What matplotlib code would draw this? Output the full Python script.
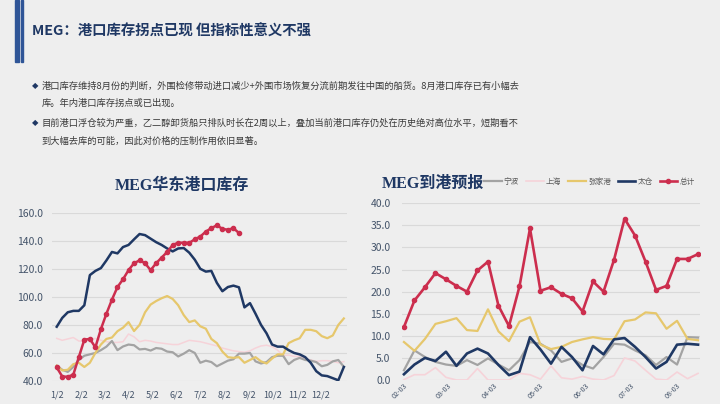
import matplotlib
matplotlib.use('Agg')
import matplotlib.pyplot as plt
import pandas as pd
from matplotlib.patches import Rectangle

plt.rcParams['font.family'] = ['Noto Sans CJK SC', 'DejaVu Sans']

# ---------------- data: left chart (MEG华东港口库存), weekly from Jan 2 ----------------
inv_start = '2020-01-02'
inv_navy = [78.7, 85, 89, 90, 90, 94, 115.5, 118.5, 120.5, 126, 132, 131, 135.5, 137, 141,
            144.8, 144, 141.5, 139, 137, 134.5, 132.4, 134.5, 134.8, 131.5, 126.5, 120, 118,
            118.5, 110, 104, 107, 108, 106.8, 92.5, 95.5, 88, 80, 74, 66, 64.5, 64.5, 62, 60,
            59, 57, 53, 47, 44, 43.5, 42, 40.5, 50]
inv_red = [49.7, 43.2, 43, 44.5, 57, 69.5, 70, 64, 77, 88, 98, 107, 112.5, 119, 124, 126,
           124, 119, 124, 128, 132, 137, 138.6, 138.6, 138.5, 141, 143, 146.5, 149, 151,
           148.5, 147.8, 149, 145.5]
inv_yellow = [50.9, 47.5, 48, 52, 53, 50, 53, 60, 66, 70, 71, 75.5, 78, 82, 75.6, 80, 89,
              94.5, 97, 99, 100.6, 98.5, 94, 87, 82, 83.2, 79, 77.3, 70, 67, 61, 57, 56.5,
              57, 53, 55, 57, 54, 52.5, 56, 59, 59, 67, 69, 70.5, 76.5, 76.5, 75.5, 72, 70.5,
              72.5, 80, 84.6]
inv_gray = [50.9, 48, 46.5, 50, 55, 58, 59, 60, 62, 64.5, 68.5, 62, 64.6, 66, 65.5, 62.5,
            62.9, 61.7, 63.5, 63, 61, 60.5, 57.5, 59.5, 62, 60, 53, 54.5, 53.5, 50.5, 52.5,
            54.5, 55.5, 59.5, 59.5, 60, 54, 52.5, 53.5, 57, 58, 58, 52, 55, 56.5, 55, 54.5,
            53.5, 50.5, 51.5, 54, 55, 50.1]
inv_pink = [70.4, 69, 70, 71, 68.5, 68.5, 69.5, 70.4, 69, 68, 67.5, 67.5, 68, 73.5, 71.5,
            68, 69, 68.5, 67.5, 67, 66.5, 66, 66, 67.5, 69, 68.5, 68, 67, 66, 65, 63.5, 62.5,
            61.5, 61, 60.5, 61.5, 63.5, 65, 65.5, 64.5, 62, 58, 58.5, 57.5, 57.5, 56, 55, 54,
            54.5, 54.5, 54, 53, 53.8]
inv_tickdates = ['2020-01-02', '2020-02-02', '2020-03-02', '2020-04-02', '2020-05-02',
                 '2020-06-02', '2020-07-02', '2020-08-02', '2020-09-02', '2020-10-02',
                 '2020-11-02', '2020-12-02']
inv_ticklabels = ['1/2', '2/2', '3/2', '4/2', '5/2', '6/2', '7/2', '8/2', '9/2', '10/2',
                  '11/2', '12/2']
inv_yticks = [40, 60, 80, 100, 120, 140, 160]

# ---------------- data: right chart (MEG到港预报), weekly from Feb 3 ----------------
arr_start = '2020-02-03'
arr_total = [12.0, 18.0, 21.0, 24.2, 22.8, 21.3, 20.0, 24.8, 26.8, 16.8, 12.2, 21.2, 34.3,
             20.2, 21.0, 19.5, 18.5, 15.5, 22.3, 20.0, 27.2, 36.5, 32.7, 26.8, 20.4, 21.3,
             27.4, 27.4, 28.5]
arr_zjg = [8.6, 6.6, 9.3, 12.7, 13.3, 14.0, 11.3, 11.1, 16.0, 11.0, 8.8, 13.2, 14.2, 8.0,
           7.0, 7.5, 8.6, 9.2, 9.7, 9.3, 9.2, 13.3, 13.7, 15.3, 15.1, 11.6, 13.4, 9.3, 9.0]
arr_tc = [1.3, 3.5, 5.0, 4.3, 6.4, 3.2, 6.0, 7.1, 6.0, 3.4, 1.1, 1.9, 9.7, 6.9, 3.7, 7.5,
          5.2, 2.2, 7.7, 5.8, 9.2, 9.5, 7.5, 5.2, 2.6, 4.1, 8.0, 8.2, 8.0]
arr_nb = [2.2, 6.7, 5.2, 4.1, 3.5, 3.2, 4.5, 3.4, 4.9, 3.5, 2.2, 4.5, 8.6, 8.2, 6.7, 4.1,
          4.9, 3.4, 2.6, 5.2, 8.2, 8.0, 6.7, 5.6, 3.4, 5.2, 3.5, 9.7, 9.6]
arr_sh = [0.1, 1.2, 1.2, 2.8, 0.6, 0.0, 0.0, 2.6, 0.0, 0.0, 0.0, 1.5, 1.2, 0.2, 3.2, 0.5,
          0.2, 0.8, 0.2, 0.0, 1.0, 5.0, 4.3, 2.2, 0.2, 0.0, 1.8, 0.3, 1.5]
arr_tickdates = ['2020-02-03', '2020-03-03', '2020-04-03', '2020-05-03', '2020-06-03',
                 '2020-07-03', '2020-08-03']
arr_ticklabels = ['02-03', '03-03', '04-03', '05-03', '06-03', '07-03', '08-03']
arr_legend = ['宁波', '上海', '张家港', '太仓', '总计']
arr_yticks = [0, 5, 10, 15, 20, 25, 30, 35, 40]

# ---------------- text ----------------
title = 'MEG：港口库存拐点已现 但指标性意义不强'
bullets = [
    ['港口库存维持8月份的判断，外围检修带动进口减少+外围市场恢复分流前期发往中国的船货。8月港口库存已有小幅去',
     '库。年内港口库存拐点或已出现。'],
    ['目前港口浮仓较为严重，乙二醇卸货船只排队时长在2周以上，叠加当前港口库存仍处在历史绝对高位水平，短期看不',
     '到大幅去库的可能，因此对价格的压制作用依旧显著。'],
]

NAVY = '#1f3864'
RED = '#cc2e4e'
GOLD = '#e6c76c'
GRAY = '#a3a3a3'
PINK = '#f6d3d9'
TICKC = '#44546a'
GRID = '#d9d9d9'

W, H = 720, 404
fig = plt.figure(figsize=(7.2, 4.04), dpi=100, facecolor='#eeeeee')

# decorative vertical bars at top-left
fig.patches.append(Rectangle((15 / W, 1 - 62 / H), 4.3 / W, 62 / H, transform=fig.transFigure,
                             color='#2f5597', zorder=5))
fig.patches.append(Rectangle((20.7 / W, 1 - 62 / H), 2 / W, 62 / H, transform=fig.transFigure,
                             color='#2f5597', zorder=5))

fig.text(32 / W, 1 - 32 / H, title, fontsize=10.4, fontweight='bold', color=NAVY,
         va='center', ha='left')

line_y = [[86, 103], [123, 141]]
for b, ys in zip(bullets, line_y):
    fig.text(35 / W, 1 - ys[0] / H, '◆', fontsize=6, color=NAVY, va='center', ha='center',
             family=['DejaVu Sans'])
    for txt, yy in zip(b, ys):
        fig.text(41.7 / W, 1 - yy / H, txt, fontsize=6.7, color='#3a3a3a', va='center',
                 ha='left')


def style_axes(ax):
    for s in ax.spines.values():
        s.set_visible(False)
    ax.set_facecolor('none')
    ax.grid(axis='y', color=GRID, lw=0.8)
    ax.set_axisbelow(True)
    ax.tick_params(length=0, colors=TICKC)


# ---------------- left chart ----------------
axL = fig.add_axes([52 / W, 1 - 381 / H, (347 - 52) / W, (381 - 212.7) / H])
style_axes(axL)
t0 = pd.Timestamp(inv_start)
xn = pd.date_range(t0, periods=len(inv_navy), freq='7D')
xr = pd.date_range(t0, periods=len(inv_red), freq='7D')
axL.plot(xn, inv_pink, color=PINK, lw=1.1, zorder=2)
axL.plot(xn, inv_gray, color=GRAY, lw=1.6, zorder=3)
axL.plot(xn, inv_yellow, color=GOLD, lw=1.6, zorder=4)
axL.plot(xn, inv_navy, color=NAVY, lw=1.8, zorder=5)
axL.plot(xr, inv_red, color=RED, lw=1.8, marker='o', ms=3.0, zorder=6)
axL.set_ylim(40, 160)
axL.set_yticks(inv_yticks)
axL.set_yticklabels([f'{v:.1f}' for v in inv_yticks], fontsize=7.5)
axL.set_xlim(t0 - pd.Timedelta(days=6), xn[-1] + pd.Timedelta(days=4))
axL.set_xticks(pd.to_datetime(inv_tickdates))
axL.set_xticklabels(inv_ticklabels, fontsize=6.5)
axL.tick_params(axis='y', pad=6.5)
axL.tick_params(axis='x', pad=7)

fig.text(182 / W, 1 - 186 / H, 'MEG华东港口库存', fontsize=11.5, fontweight='bold',
         color=NAVY, ha='center', va='center',
         family=['Liberation Serif', 'Noto Sans CJK SC'])

# ---------------- right chart ----------------
axR = fig.add_axes([401.7 / W, 1 - 380 / H, (700 - 401.7) / W, (380 - 203.3) / H])
style_axes(axR)
a0 = pd.Timestamp(arr_start)
xa = pd.date_range(a0, periods=len(arr_total), freq='7D')
series = [(arr_nb, GRAY, 1.6, None, 3), (arr_sh, PINK, 1.2, None, 2),
          (arr_zjg, GOLD, 1.6, None, 4), (arr_tc, NAVY, 1.9, None, 5),
          (arr_total, RED, 1.9, 'o', 6)]
for (vals, c, lw, mk, z), lab in zip(series, arr_legend):
    axR.plot(xa, vals, color=c, lw=lw, marker=mk, ms=3.0, zorder=z, label=lab)
axR.set_ylim(0, 40)
axR.set_yticks(arr_yticks)
axR.set_yticklabels([f'{v:.1f}' for v in arr_yticks], fontsize=7.5)
axR.set_xlim(a0 - pd.Timedelta(days=1.5), xa[-1] + pd.Timedelta(days=1.3))
axR.set_xticks(pd.to_datetime(arr_tickdates))
axR.set_xticklabels(arr_ticklabels, fontsize=5.2, rotation=45, ha='right',
                    rotation_mode='anchor')
axR.tick_params(axis='y', pad=8)
axR.tick_params(axis='x', pad=1)

fig.text(382 / W, 1 - 184 / H, 'MEG到港预报', fontsize=11.5, fontweight='bold',
         color=NAVY, ha='left', va='center',
         family=['Liberation Serif', 'Noto Sans CJK SC'])
handles, labels = axR.get_legend_handles_labels()
fig.legend(handles, labels, loc='center left', bbox_to_anchor=(484 / W, 1 - 182 / H),
           ncol=5, fontsize=5.5, frameon=False, handlelength=2.3, handletextpad=0.3,
           columnspacing=0.9, labelcolor='#595959', borderaxespad=0, borderpad=0)

fig.savefig('out.png', dpi=100, facecolor=fig.get_facecolor())
